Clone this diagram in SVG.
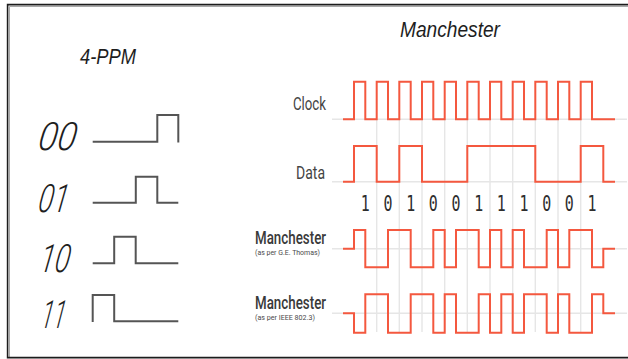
<svg xmlns="http://www.w3.org/2000/svg" width="628" height="359" viewBox="0 0 628 359">
  <style>
    .frame { stroke: #1c1c1c; stroke-width: 1.6; fill: none; }
    .shade { stroke: #a8a8a8; stroke-width: 1; fill: none; }
    .title { font-family: "Liberation Sans", Arial, sans-serif; font-style: italic; font-size: 22px; fill: #1e1e1e; }
    .sym { font-family: Roboto, "Liberation Sans", sans-serif; font-style: italic; font-weight: 300; font-size: 39px; fill: #1e1e1e; }
    .ppm { stroke: #555; stroke-width: 2; fill: none; stroke-linejoin: miter; }
    .grid { stroke: #e6e6e6; stroke-width: 1.4; fill: none; }
    .wave { stroke: #f4583f; stroke-width: 2; fill: none; stroke-linejoin: miter; }
    .lbl { font-family: Roboto, "Liberation Sans", sans-serif; font-weight: 500; font-size: 19px; fill: #3a3a3a; }
    .lbl-light { font-weight: 400; fill: #444; }
    .sub { font-family: Roboto, "Liberation Sans", sans-serif; font-size: 8px; fill: #4a4a4a; }
    .bit { font-family: "DejaVu Sans Mono", "Liberation Mono", monospace; font-size: 21px; fill: #2e2e2e; text-anchor: middle; }
  </style>

  <rect x="0" y="0" width="628" height="359" fill="#ffffff"/>

  <!-- outer frame: left, top and bottom edges -->
  <g id="frame">
    <path class="shade" d="M9.5,358 V6.5 H628"/>
    <path class="frame" d="M628,4.6 H7.6 V357.6 H628"/>
  </g>

  <!-- headings -->
  <g id="title-ppm"><text class="title" x="80" y="64" textLength="56" lengthAdjust="spacingAndGlyphs">4-PPM</text></g>
  <g id="title-manchester"><text class="title" x="400" y="37" textLength="100" lengthAdjust="spacingAndGlyphs">Manchester</text></g>

  <!-- 4-PPM symbol table (symbols slanted a little further than the italic face) -->
  <g id="ppm-00">
    <text class="sym" transform="translate(37,150) skewX(-9)" textLength="38" lengthAdjust="spacingAndGlyphs">00</text>
    <path class="ppm" d="M92.7,141.7 H157.3 V115 H178.3 V142.5"/>
  </g>
  <g id="ppm-01">
    <text class="sym" transform="translate(37,211.7) skewX(-9)" textLength="30" lengthAdjust="spacingAndGlyphs">01</text>
    <path class="ppm" d="M92.7,202.7 H135.8 V176.7 H157.3 V202.7 H178.3"/>
  </g>
  <g id="ppm-10">
    <text class="sym" transform="translate(38.5,271.7) skewX(-9)" textLength="30" lengthAdjust="spacingAndGlyphs">10</text>
    <path class="ppm" d="M92.7,263.3 H114.2 V236.7 H135.7 V263.3 H178.3"/>
  </g>
  <g id="ppm-11">
    <text class="sym" transform="translate(40,328.3) skewX(-9)" textLength="24" lengthAdjust="spacingAndGlyphs">11</text>
    <path class="ppm" d="M92.7,322 V295 H114.2 V321.3 H178.3"/>
  </g>

  <!-- timing grid -->
  <g id="grid">
    <path class="grid" d="M332,119.3 H627 M332,181.7 H627 M332,248.7 H627 M332,313.3 H627"/>
    <path class="grid" d="M376.7,120 V332 M399.3,120 V332 M422,120 V332 M444.7,120 V332 M467.3,120 V332 M490,120 V332 M512.7,120 V332 M535.3,120 V332 M558,120 V332 M580.7,120 V332"/>
  </g>

  <!-- row labels -->
  <g id="label-clock"><text class="lbl lbl-light" x="326" y="109.5" text-anchor="end" textLength="33" lengthAdjust="spacingAndGlyphs">Clock</text></g>
  <g id="label-data"><text class="lbl lbl-light" x="325" y="178.5" text-anchor="end" textLength="29" lengthAdjust="spacingAndGlyphs">Data</text></g>
  <g id="label-thomas">
    <text class="lbl" x="255" y="243.5" textLength="71" lengthAdjust="spacingAndGlyphs">Manchester</text>
    <text class="sub" x="255" y="254.5" textLength="65" lengthAdjust="spacingAndGlyphs">(as per G.E. Thomas)</text>
  </g>
  <g id="label-ieee">
    <text class="lbl" x="255" y="308.5" textLength="71" lengthAdjust="spacingAndGlyphs">Manchester</text>
    <text class="sub" x="255" y="320" textLength="60" lengthAdjust="spacingAndGlyphs">(as per IEEE 802.3)</text>
  </g>

  <!-- signal traces -->
  <g id="connectors">
    <path id="clock" class="wave" d="M343,119.3 H354 V81.7 H365.3 V119.3 H376.7 V81.7 H388 V119.3 H399.3 V81.7 H410.7 V119.3 H422 V81.7 H433.3 V119.3 H444.7 V81.7 H456 V119.3 H467.3 V81.7 H478.7 V119.3 H490 V81.7 H501.3 V119.3 H512.7 V81.7 H524 V119.3 H535.3 V81.7 H546.7 V119.3 H558 V81.7 H569.3 V119.3 H580.7 V81.7 H592 V119.3 H615"/>
    <path id="data" class="wave" d="M343,181.7 H354 V146 H376.7 V181.7 H399.3 V146 H422 V181.7 H467.3 V146 H535.3 V181.7 H580.7 V146 H603.3 V181.7 H615"/>
    <path id="thomas" class="wave" d="M343,248.7 H354 V230 H365.3 V267.3 H388 V230 H410.7 V267.3 H433.3 V230 H444.7 V267.3 H456 V230 H478.7 V267.3 H490 V230 H501.3 V267.3 H512.7 V230 H524 V267.3 H546.7 V230 H558 V267.3 H569.3 V230 H592 V267.3 H603.3 V248.7 H615"/>
    <path id="ieee" class="wave" d="M343,313.3 H354 V332.7 H365.3 V294.3 H388 V332.7 H410.7 V294.3 H433.3 V332.7 H444.7 V294.3 H456 V332.7 H478.7 V294.3 H490 V332.7 H501.3 V294.3 H512.7 V332.7 H524 V294.3 H546.7 V332.7 H558 V294.3 H569.3 V332.7 H592 V294.3 H603.3 V313.3 H615"/>
  </g>

  <!-- data bits -->
  <g id="bits">
    <text class="bit" x="365.3" y="211" textLength="9" lengthAdjust="spacingAndGlyphs">1</text>
    <text class="bit" x="388" y="211" textLength="9" lengthAdjust="spacingAndGlyphs">0</text>
    <text class="bit" x="410.7" y="211" textLength="9" lengthAdjust="spacingAndGlyphs">1</text>
    <text class="bit" x="433.3" y="211" textLength="9" lengthAdjust="spacingAndGlyphs">0</text>
    <text class="bit" x="456" y="211" textLength="9" lengthAdjust="spacingAndGlyphs">0</text>
    <text class="bit" x="478.7" y="211" textLength="9" lengthAdjust="spacingAndGlyphs">1</text>
    <text class="bit" x="501.3" y="211" textLength="9" lengthAdjust="spacingAndGlyphs">1</text>
    <text class="bit" x="524" y="211" textLength="9" lengthAdjust="spacingAndGlyphs">1</text>
    <text class="bit" x="546.7" y="211" textLength="9" lengthAdjust="spacingAndGlyphs">0</text>
    <text class="bit" x="569.3" y="211" textLength="9" lengthAdjust="spacingAndGlyphs">0</text>
    <text class="bit" x="592" y="211" textLength="9" lengthAdjust="spacingAndGlyphs">1</text>
  </g>
</svg>
